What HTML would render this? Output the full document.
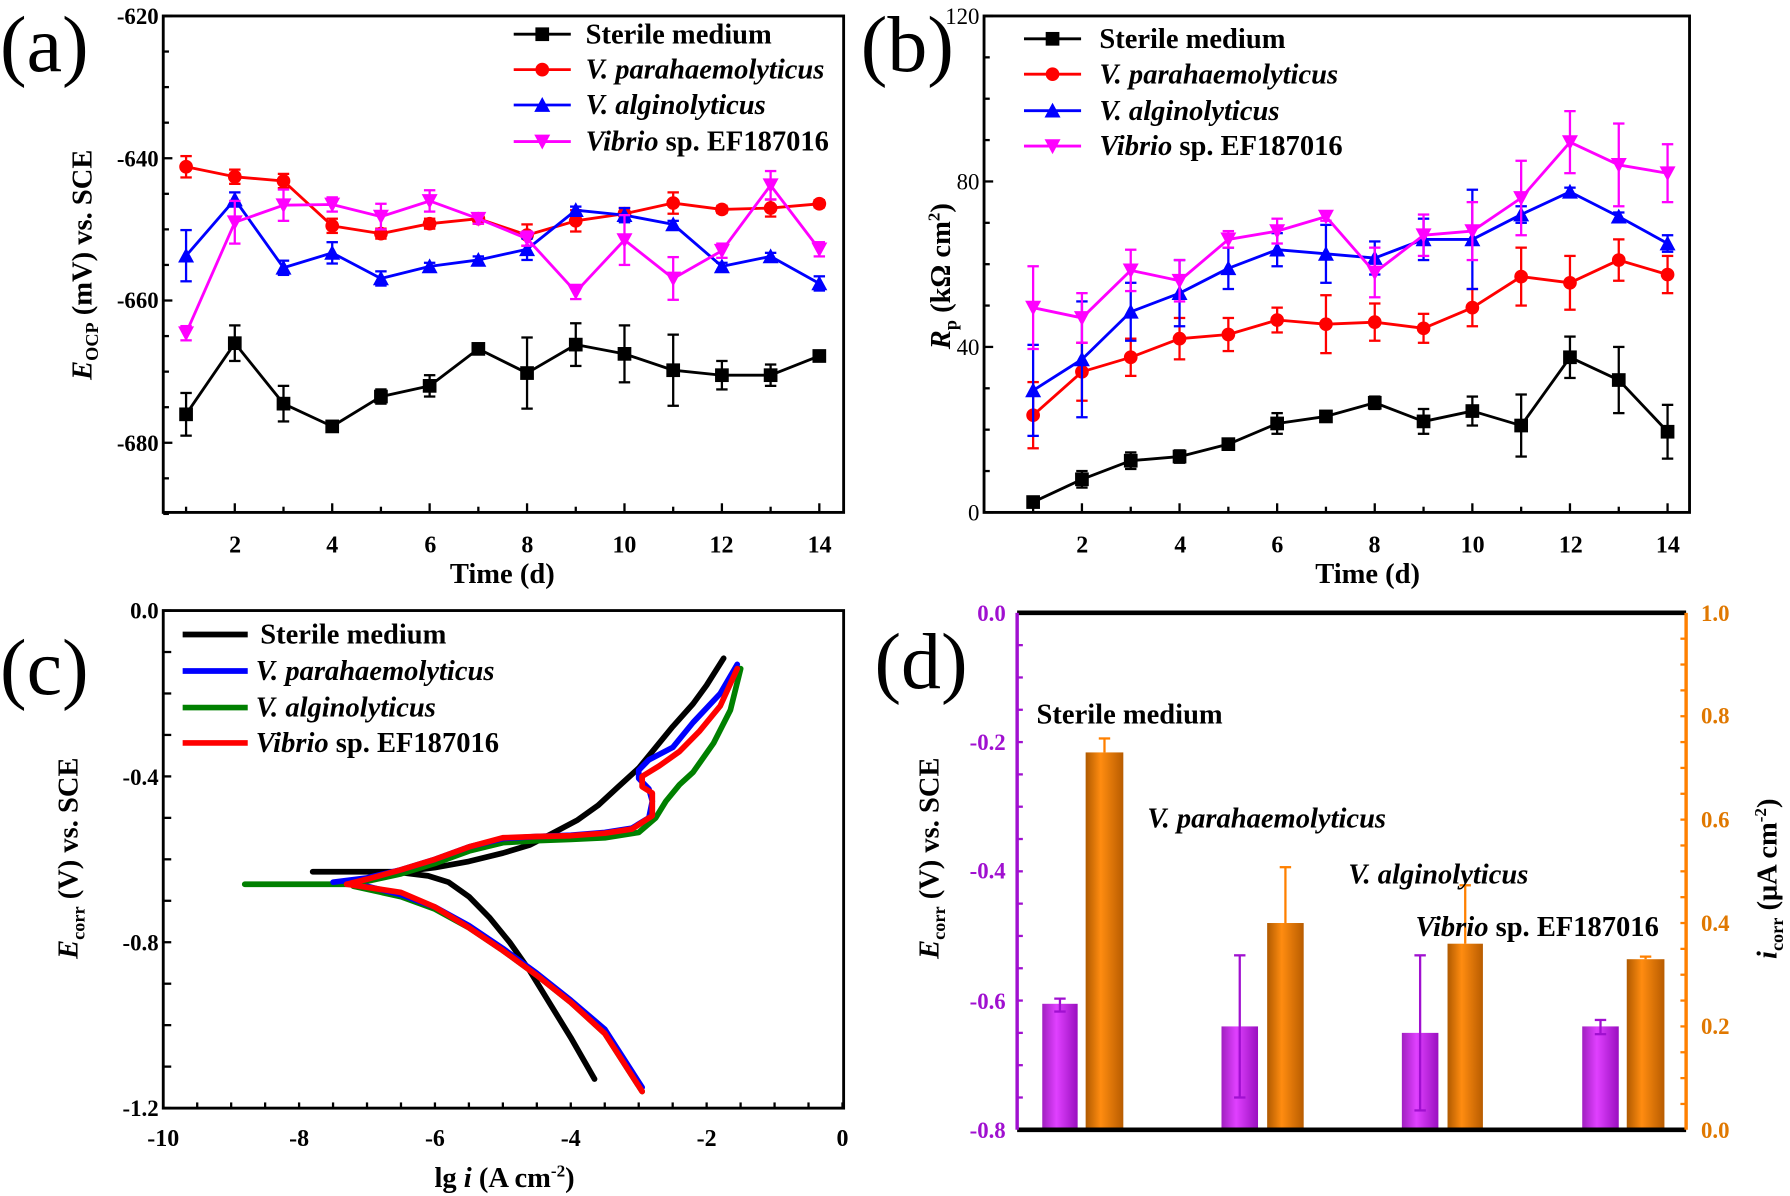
<!DOCTYPE html>
<html><head><meta charset="utf-8"><style>
html,body{margin:0;padding:0;background:#fff}
svg{display:block}
text{font-family:"Liberation Serif",serif;font-weight:bold}
</style></head><body>
<svg id="s" width="1790" height="1196" viewBox="0 0 1568 1048" preserveAspectRatio="none" xmlns="http://www.w3.org/2000/svg">
<defs>
<linearGradient id="gp" x1="0" x2="1" y1="0" y2="0"><stop offset="0" stop-color="#a020c0"/><stop offset="0.4" stop-color="#e040ff"/><stop offset="1" stop-color="#9a10c0"/></linearGradient>
<linearGradient id="go" x1="0" x2="1" y1="0" y2="0"><stop offset="0" stop-color="#b05a00"/><stop offset="0.4" stop-color="#ff8c10"/><stop offset="1" stop-color="#b85c00"/></linearGradient>
</defs>
<g id="g"></g>
<!-- panel labels -->
<text x="0" y="62" font-size="70" style="font-weight:normal">(a)</text>
<text x="754" y="62" font-size="70" style="font-weight:normal">(b)</text>
<text x="0" y="608" font-size="70" style="font-weight:normal">(c)</text>
<text x="766" y="603" font-size="70" style="font-weight:normal">(d)</text>
<!-- (a) ticks -->
<g font-size="20" text-anchor="end">
<text x="139" y="21">-620</text><text x="139" y="146">-640</text><text x="139" y="270">-660</text><text x="139" y="395">-680</text>
</g>
<g font-size="21" text-anchor="middle">
<text x="206" y="484">2</text><text x="291" y="484">4</text><text x="377" y="484">6</text><text x="462" y="484">8</text><text x="547" y="484">10</text><text x="632" y="484">12</text><text x="718" y="484">14</text>
<text x="440" y="511" font-size="25">Time (d)</text>
</g>
<text transform="translate(80,232) rotate(-90)" font-size="25" text-anchor="middle"><tspan font-style="italic">E</tspan><tspan font-size="16" dy="6">OCP</tspan><tspan dy="-6"> (mV) vs. SCE</tspan></text>
<g font-size="25">
<text x="513" y="38">Sterile medium</text>
<text x="513" y="69" font-style="italic">V. parahaemolyticus</text>
<text x="513" y="100" font-style="italic">V. alginolyticus</text>
<text x="513" y="132"><tspan font-style="italic">Vibrio</tspan> sp. EF187016</text>
</g>
<!-- (b) ticks -->
<g font-size="20" text-anchor="end">
<text x="858" y="21" style="font-weight:normal">120</text><text x="858" y="166" style="font-weight:normal">80</text><text x="858" y="311" style="font-weight:normal">40</text><text x="858" y="456" style="font-weight:normal">0</text>
</g>
<g font-size="21" text-anchor="middle">
<text x="948" y="484">2</text><text x="1034" y="484">4</text><text x="1119" y="484">6</text><text x="1204" y="484">8</text><text x="1290" y="484">10</text><text x="1376" y="484">12</text><text x="1461" y="484">14</text>
<text x="1198" y="511" font-size="25">Time (d)</text>
</g>
<text transform="translate(832,242) rotate(-90)" font-size="25" text-anchor="middle"><tspan font-style="italic">R</tspan><tspan font-size="16" dy="6">p</tspan><tspan dy="-6"> (kΩ cm</tspan><tspan font-size="15" dy="-9">2</tspan><tspan dy="9">)</tspan></text>
<g font-size="25">
<text x="963" y="42">Sterile medium</text>
<text x="963" y="73" font-style="italic">V. parahaemolyticus</text>
<text x="963" y="105" font-style="italic">V. alginolyticus</text>
<text x="963" y="136"><tspan font-style="italic">Vibrio</tspan> sp. EF187016</text>
</g>
<!-- (c) ticks -->
<g font-size="20" text-anchor="end">
<text x="139" y="542">0.0</text><text x="139" y="688">-0.4</text><text x="139" y="833">-0.8</text><text x="139" y="978">-1.2</text>
</g>
<g font-size="21" text-anchor="middle">
<text x="143" y="1004">-10</text><text x="262" y="1004">-8</text><text x="381" y="1004">-6</text><text x="500" y="1004">-4</text><text x="619" y="1004">-2</text><text x="738" y="1004">0</text>
</g>
<text x="442" y="1040" font-size="25" text-anchor="middle">lg <tspan font-style="italic">i</tspan> (A cm<tspan font-size="15" dy="-9">-2</tspan><tspan dy="9">)</tspan></text>
<text transform="translate(68,752) rotate(-90)" font-size="25" text-anchor="middle"><tspan font-style="italic">E</tspan><tspan font-size="16" dy="6">corr</tspan><tspan dy="-6"> (V) vs. SCE</tspan></text>
<g font-size="25">
<text x="228" y="564">Sterile medium</text>
<text x="224" y="596" font-style="italic">V. parahaemolyticus</text>
<text x="224" y="628" font-style="italic">V. alginolyticus</text>
<text x="224" y="659"><tspan font-style="italic">Vibrio</tspan> sp. EF187016</text>
</g>
<!-- (d) ticks -->
<g font-size="20" text-anchor="end" fill="#a010d0">
<text x="881" y="544">0.0</text><text x="881" y="657">-0.2</text><text x="881" y="770">-0.4</text><text x="881" y="884">-0.6</text><text x="881" y="997">-0.8</text>
</g>
<g font-size="20" fill="#e07800">
<text x="1490" y="544">1.0</text><text x="1490" y="634">0.8</text><text x="1490" y="725">0.6</text><text x="1490" y="816">0.4</text><text x="1490" y="906">0.2</text><text x="1490" y="997">0.0</text>
</g>
<text transform="translate(822,752) rotate(-90)" font-size="25" text-anchor="middle"><tspan font-style="italic">E</tspan><tspan font-size="16" dy="6">corr</tspan><tspan dy="-6"> (V) vs. SCE</tspan></text>
<text transform="translate(1556,770) rotate(-90)" font-size="25" text-anchor="middle"><tspan font-style="italic">i</tspan><tspan font-size="16" dy="6">corr</tspan><tspan dy="-6"> (μA cm</tspan><tspan font-size="15" dy="-9">-2</tspan><tspan dy="9">)</tspan></text>
<g font-size="25">
<text x="908" y="634">Sterile medium</text>
<text x="1005" y="725" font-style="italic">V. parahaemolyticus</text>
<text x="1181" y="774" font-style="italic">V. alginolyticus</text>
<text x="1240" y="820"><tspan font-style="italic">Vibrio</tspan> sp. EF187016</text>
</g>
</svg>
<script>
var g=document.getElementById('g'),h='';
function L(x1,y1,x2,y2,c,w){h+='<line x1="'+x1+'" y1="'+y1+'" x2="'+x2+'" y2="'+y2+'" stroke="'+c+'" stroke-width="'+w+'"/>';}
function P(pts,c,w){h+='<polyline fill="none" stroke="'+c+'" stroke-width="'+w+'" stroke-linejoin="round" stroke-linecap="round" points="'+pts.map(p=>p[0].toFixed(1)+','+p[1].toFixed(1)).join(' ')+'"/>';}
function M(t,x,y,c){var s=6;if(t==0)h+='<rect x="'+(x-s)+'" y="'+(y-s)+'" width="'+2*s+'" height="'+2*s+'" fill="'+c+'"/>';
else if(t==1)h+='<circle cx="'+x+'" cy="'+y+'" r="6" fill="'+c+'"/>';
else if(t==2)h+='<polygon points="'+x+','+(y-7)+' '+(x-7)+','+(y+6)+' '+(x+7)+','+(y+6)+'" fill="'+c+'"/>';
else h+='<polygon points="'+x+','+(y+7)+' '+(x-7)+','+(y-6)+' '+(x+7)+','+(y-6)+'" fill="'+c+'"/>';}
function box(x1,y1,x2,y2){h+='<rect x="'+x1+'" y="'+y1+'" width="'+(x2-x1)+'" height="'+(y2-y1)+'" fill="none" stroke="#000" stroke-width="2.5"/>';}
var C=['#000','#f00','#00f','#f0f'];
function series(xf,yf,data,err){for(var k=0;k<4;k++){var pts=data[k].map((v,i)=>[xf(i+1),yf(v)]);P(pts,C[k],2.5);
 data[k].forEach((v,i)=>{var e=err[k][i],x=xf(i+1);L(x,yf(v-e),x,yf(v+e),C[k],2);L(x-5,yf(v-e),x+5,yf(v-e),C[k],2);L(x-5,yf(v+e),x+5,yf(v+e),C[k],2);});
 pts.forEach(p=>M(k,p[0],p[1],C[k]));}}
// (a)
var xa=d=>163+(d-1)*42.67, ya=v=>14+(-620-v)*6.233;
box(143,14,739,449);
for(var v=-620;v>=-690;v-=5){var y=ya(v);L(143,y,143+(v%20==0?8:5),y,'#000',2);}
for(var d=1;d<=14;d++){L(xa(d),449,xa(d),449-(d%2==0?8:5),'#000',2);}
series(xa,ya,[
[-676,-666,-674.5,-677.7,-673.5,-672,-666.8,-670.2,-666.2,-667.5,-669.8,-670.5,-670.5,-667.8],
[-641.2,-642.6,-643.2,-649.5,-650.6,-649.2,-648.5,-650.8,-648.8,-647.8,-646.3,-647.2,-647,-646.4],
[-653.7,-645.8,-655.4,-653.3,-656.9,-655.2,-654.3,-652.8,-647.3,-648,-649.3,-655.2,-653.8,-657.6],
[-664.6,-649,-646.6,-646.5,-648.2,-646,-648.5,-651.3,-658.8,-651.5,-656.9,-653,-643.8,-652.8]],
[[3,2.5,2.5,.5,1,1.5,.5,5,3,4,5,2,1.5,.5],[1.5,1,1,1,.7,.7,.7,1.5,1.5,.8,1.5,.5,1.2,.5],[3.6,1,1,1.5,1,.5,.5,1.5,.5,1,.5,.5,.5,1],[1,3,2.2,1,1.8,1.5,.7,1,1,3.5,3,1,2,1]]);
for(var k=0;k<4;k++){var y=[30,61,92,124][k];L(450,y,500,y,C[k],2.5);M(k,475,y,C[k]);}
// (b)
var xb=d=>905+(d-1)*42.75, yb=v=>449-v*3.625;
box(862,14,1480,449);
for(var v=0;v<=120;v+=10){var y=yb(v);L(862,y,862+(v%40==0?8:5),y,'#000',2);}
for(var d=1;d<=14;d++){L(xb(d),449,xb(d),449-(d%2==0?8:5),'#000',2);}
series(xb,yb,[
[2.5,8,12.5,13.5,16.5,21.5,23.2,26.5,22,24.5,21,37.5,32,19.5],
[23.5,34,37.5,42,43,46.5,45.5,46,44.5,49.5,57,55.5,61,57.5],
[29.5,37,48.5,53,59,63.5,62.5,61.5,66,66,72,77.5,71.5,65],
[49.5,47,58.5,56,66,68,71.5,58,67,68,76,89.5,84,82]],
[[1,2,2,1.5,1,2.5,1,1.5,3,3.5,7.5,5,8,6.5],[8,7,4.5,5,4,3,7,4.5,3.5,4.5,7,6.5,5,4.5],[11,14,7,8,5,4,7,4,5,12,2,1,1,2],[10,6,5,5,2,3,1,6,5,7,9,7.5,10,7]]);
for(var k=0;k<4;k++){var y=[34,65,97,128][k];L(897,y,947,y,C[k],2.5);M(k,922,y,C[k]);}
// (c)
var xc=l=>738+l*59.5, yc=E=>535-E*363.3;
box(143,535,739,971);
for(var E=0;E>=-1.2;E-=0.1){var y=yc(E);L(143,y,150,y,'#000',2);}
for(var l=-10;l<=0;l+=0.5){L(xc(l),971,xc(l),966,'#000',2);}
var cc=['#000','#0000ff','#008000','#ff0000'];
var curves=[
[[-7.8,-0.63],[-6.5,-0.63],[-6,-0.62],[-5.5,-0.605],[-5,-0.585],[-4.6,-0.565],[-4.3,-0.54],[-3.9,-0.505],[-3.6,-0.47],[-3.3,-0.425],[-3,-0.38],[-2.5,-0.28],[-2.2,-0.225],[-2,-0.18],[-1.75,-0.115]],
[[-6.5,-0.632],[-6.1,-0.64],[-5.8,-0.655],[-5.5,-0.69],[-5.2,-0.74],[-4.9,-0.8],[-4.6,-0.87],[-4.3,-0.95],[-4,-1.03],[-3.65,-1.13]],
[[-7.5,-0.655],[-7,-0.645],[-6.5,-0.625],[-6,-0.6],[-5.5,-0.57],[-5,-0.55],[-4.5,-0.545],[-4,-0.542],[-3.5,-0.535],[-3.1,-0.525],[-2.85,-0.5],[-2.8,-0.46],[-2.85,-0.43],[-3,-0.405],[-3,-0.385],[-2.85,-0.36],[-2.5,-0.33],[-2.2,-0.27],[-1.8,-0.2],[-1.55,-0.13]],
[[-7,-0.665],[-6.5,-0.685],[-6,-0.715],[-5.5,-0.76],[-5,-0.815],[-4.5,-0.875],[-4,-0.94],[-3.5,-1.01],[-2.95,-1.15]],
[[-8.8,-0.66],[-7.2,-0.66],[-6.5,-0.635],[-6,-0.61],[-5.5,-0.58],[-5,-0.56],[-4.5,-0.555],[-4,-0.552],[-3.5,-0.548],[-3,-0.535],[-2.75,-0.5],[-2.6,-0.46],[-2.4,-0.42],[-2.2,-0.39],[-1.9,-0.32],[-1.65,-0.24],[-1.5,-0.14]],
[[-7.2,-0.665],[-6.5,-0.69],[-6,-0.72],[-5.5,-0.765],[-5,-0.82],[-4.5,-0.88],[-4,-0.945],[-3.5,-1.02],[-2.95,-1.16]],
[[-7.3,-0.66],[-7,-0.648],[-6.5,-0.625],[-6,-0.6],[-5.5,-0.57],[-5,-0.548],[-4.5,-0.545],[-4,-0.543],[-3.5,-0.537],[-3.1,-0.527],[-2.8,-0.495],[-2.8,-0.44],[-2.95,-0.425],[-2.95,-0.4],[-2.7,-0.375],[-2.4,-0.34],[-2.1,-0.29],[-1.8,-0.23],[-1.55,-0.14]],
[[-7.3,-0.66],[-6.5,-0.68],[-6,-0.715],[-5.5,-0.765],[-5,-0.82],[-4.5,-0.88],[-4,-0.945],[-3.5,-1.02],[-2.95,-1.16]]];
[[0,0],[0,1],[2,4],[2,5],[1,2],[1,3],[3,6],[3,7]].forEach(a=>P(curves[a[1]].map(p=>[xc(p[0]),yc(p[1])]),cc[a[0]],5));
for(var k=0;k<4;k++){var y=[556,588,620,651][k];L(160,y,217,y,cc[k],5);}
// (d)
var yd=v=>537-v*566.25, yi=v=>990-v*453;
for(var v=0;v>=-0.8;v-=0.05){var y=yd(v);L(891,y,896,y,'#a010d0',2);}
for(var v=0;v<=1;v+=0.05){var y=yi(v);L(1472,y,1477,y,'#ff8000',2);}
var PB=[[913,944,-0.605,-0.597,-0.617],[1070,1102,-0.64,-0.53,-0.75],[1228,1260,-0.65,-0.53,-0.77],[1386,1418,-0.64,-0.63,-0.652]];
PB.forEach(b=>{var y=yd(b[2]);h+='<rect x="'+b[0]+'" y="'+y+'" width="'+(b[1]-b[0])+'" height="'+(990-y)+'" fill="url(#gp)"/>';var x=(b[0]+b[1])/2;
L(x,yd(b[3]),x,yd(b[4]),'#a010d0',2);L(x-5,yd(b[3]),x+5,yd(b[3]),'#a010d0',2);L(x-5,yd(b[4]),x+5,yd(b[4]),'#a010d0',2);});
var OB=[[951,984,0.73,0.757],[1110,1142,0.40,0.508],[1268,1299,0.36,0.473],[1425,1458,0.33,0.335]];
OB.forEach(b=>{var y=yi(b[2]);h+='<rect x="'+b[0]+'" y="'+y+'" width="'+(b[1]-b[0])+'" height="'+(990-y)+'" fill="url(#go)"/>';var x=(b[0]+b[1])/2;
L(x,yi(b[3]),x,y,'#ff8000',2);L(x-5,yi(b[3]),x+5,yi(b[3]),'#ff8000',2);});
L(891,537,1477,537,'#000',4);L(891,990,1477,990,'#000',4);
L(891,537,891,990,'#a010d0',3);L(1477,537,1477,990,'#ff8000',3);
g.innerHTML=h;
</script>
</body></html>
